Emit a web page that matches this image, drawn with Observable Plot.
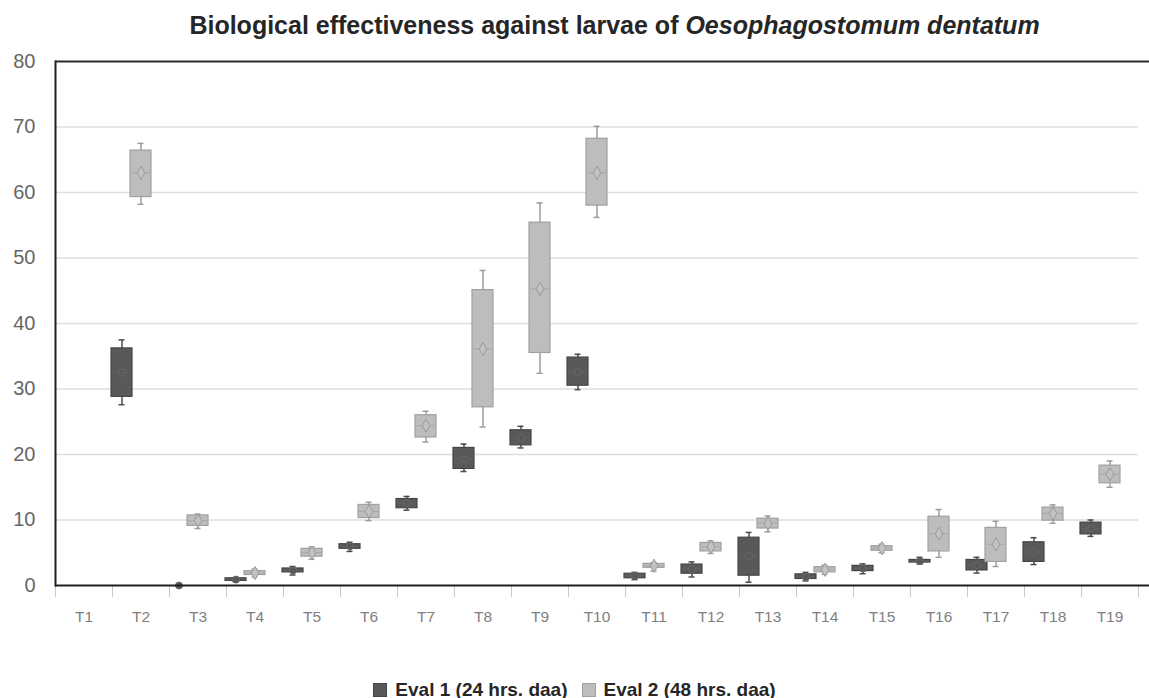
<!DOCTYPE html>
<html>
<head>
<meta charset="utf-8">
<script src="https://cdn.jsdelivr.net/npm/d3@7"></script>
<script src="https://cdn.jsdelivr.net/npm/@observablehq/plot@0.6"></script>
<style>
  html, body { margin: 0; padding: 0; background: #fff; }
  body { width: 1149px; height: 698px; overflow: hidden; font-family: "Liberation Sans", Arial, sans-serif; }
  #title { height: 45px; box-sizing: border-box; padding-top: 13px; padding-left: 80px; text-align: center;
           font-weight: bold; font-size: 25px; line-height: 25px; color: #262626; white-space: nowrap; }
  #chart svg { display: block; }
  #legend { height: 48px; box-sizing: border-box; padding-top: 30px; text-align: center; font-weight: bold;
            font-size: 19px; line-height: 20px; color: #262626; white-space: nowrap; }
  .sw { display: inline-block; width: 14px; height: 14px; vertical-align: -1px; margin-right: 8px; box-sizing: border-box; }
  .item { display: inline-block; margin: 0 7px; }
</style>
</head>
<body>
<div id="title">Biological effectiveness against larvae of <i>Oesophagostomum dentatum</i></div>
<div id="chart"></div>
<div id="legend"></div>
<script>
// ---- data ----
const treatments = ["T1","T2","T3","T4","T5","T6","T7","T8","T9","T10","T11","T12","T13","T14","T15","T16","T17","T18","T19"];
const yTicks = [0, 10, 20, 30, 40, 50, 60, 70, 80];
const seriesNames = ["Eval 1 (24 hrs. daa)", "Eval 2 (48 hrs. daa)"];

const eval1Min = [null, 27.6, 0, 0.6, 1.6, 5.2, 11.5, 17.4, 21.0, 29.9, 0.9, 1.3, 0.5, 0.7, 1.8, 3.3, 1.9, 3.2, 7.5];
const eval1Q1  = [null, 28.8, 0, 0.7, 2.0, 5.6, 11.8, 17.8, 21.4, 30.5, 1.1, 1.8, 1.5, 1.0, 2.2, 3.5, 2.3, 3.6, 7.8];
const eval1Med = [null, 32.5, 0, 0.9, 2.3, 6.0, 12.6, 19.3, 22.5, 32.6, 1.5, 2.5, 4.5, 1.3, 2.6, 3.7, 3.1, 5.1, 8.7];
const eval1Q3  = [null, 36.2, 0, 1.1, 2.6, 6.3, 13.2, 21.0, 23.7, 34.8, 1.8, 3.2, 7.3, 1.7, 3.0, 3.9, 3.9, 6.6, 9.6];
const eval1Max = [null, 37.5, 0, 1.2, 2.9, 6.6, 13.6, 21.6, 24.3, 35.3, 2.0, 3.6, 8.1, 2.0, 3.3, 4.3, 4.3, 7.3, 10.0];

const eval2Min = [null, 58.2, 8.7, 1.3, 4.0, 9.9, 21.9, 24.2, 32.4, 56.2, 2.2, 4.9, 8.2, 1.7, 5.0, 4.3, 2.9, 9.5, 15.0];
const eval2Q1  = [null, 59.3, 9.1, 1.6, 4.4, 10.3, 22.6, 27.2, 35.5, 58.0, 2.7, 5.2, 8.7, 2.0, 5.3, 5.2, 3.6, 9.9, 15.6];
const eval2Med = [null, 63.0, 9.9, 1.9, 5.0, 11.3, 24.4, 36.1, 45.3, 63.0, 3.0, 5.9, 9.5, 2.4, 5.7, 7.9, 6.3, 11.0, 17.0];
const eval2Q3  = [null, 66.4, 10.7, 2.2, 5.6, 12.3, 26.0, 45.1, 55.4, 68.2, 3.3, 6.5, 10.2, 2.8, 6.0, 10.5, 8.8, 11.9, 18.3];
const eval2Max = [null, 67.5, 10.9, 2.5, 5.9, 12.7, 26.6, 48.1, 58.4, 70.1, 3.5, 6.8, 10.6, 3.1, 6.3, 11.6, 9.8, 12.3, 19.0];

// ---- layout & style ----
const W = 1149, H = 605, ML = 55, MR = 0, MT = 16, MB = 65, IR = 11;
const bw = (W - ML - MR - IR) / treatments.length;
const boxW = 21;
const boxInset = (bw - boxW) / 2;
const styles = [
  {dx: -19, fill: "#595959", stroke: "#464646", whisker: "#4a4a4a", median: "#626262", meanFill: "#595959", meanStroke: "#676767", symbol: "circle", r: 3.5},
  {dx: 0,   fill: "#bdbdbd", stroke: "#a0a0a0", whisker: "#9c9c9c", median: "#a8a8a8", meanFill: "#c2c2c2", meanStroke: "#9a9a9a", symbol: "diamond", r: 4}
];

function rowsFor(mins, q1s, meds, q3s, maxs) {
  return treatments.map((t, i) => ({treatment: t, min: mins[i], q1: q1s[i], med: meds[i], q3: q3s[i], max: maxs[i]}))
    .filter(d => d.q1 != null);
}
const data = [
  rowsFor(eval1Min, eval1Q1, eval1Med, eval1Q3, eval1Max),
  rowsFor(eval2Min, eval2Q1, eval2Med, eval2Q3, eval2Max)
];

const boxMarks = data.flatMap((rows, k) => {
  const s = styles[k];
  return [
    Plot.ruleX(rows, {x: "treatment", y1: "min", y2: "max", stroke: s.whisker, strokeWidth: 1.5, dx: s.dx}),
    Plot.tickY(rows, {x: "treatment", y: "min", stroke: s.whisker, strokeWidth: 1.5, dx: s.dx, insetLeft: bw/2 - 3, insetRight: bw/2 - 3}),
    Plot.tickY(rows, {x: "treatment", y: "max", stroke: s.whisker, strokeWidth: 1.5, dx: s.dx, insetLeft: bw/2 - 3, insetRight: bw/2 - 3}),
    Plot.barY(rows, {x: "treatment", y1: "q1", y2: "q3", fill: s.fill, stroke: s.stroke, strokeWidth: 1.2,
                     insetLeft: boxInset, insetRight: boxInset, dx: s.dx}),
    Plot.tickY(rows, {x: "treatment", y: "med", stroke: s.median, strokeWidth: 1, dx: s.dx,
                      insetLeft: boxInset + 1, insetRight: boxInset + 1}),
    Plot.dot(rows, {x: "treatment", y: "med", symbol: s.symbol, r: s.r, fill: s.meanFill, stroke: s.meanStroke, strokeWidth: 1, dx: s.dx})
  ];
});

const chart = Plot.plot({
  width: W, height: H,
  marginLeft: ML, marginRight: MR, marginTop: MT, marginBottom: MB,
  style: {fontFamily: "'Liberation Sans', Arial, sans-serif", background: "#fff", overflow: "visible"},
  x: {type: "band", domain: treatments, padding: 0, insetRight: IR, label: null},
  y: {domain: [0, 80], label: null},
  marks: [
    Plot.ruleY(yTicks.filter(v => v > 0 && v < 80), {stroke: "#dedede", strokeWidth: 1.5, insetRight: IR}),
    Plot.axisY({ticks: yTicks, tickSize: 0, tickPadding: 20, fontSize: 20, fill: "#666666", label: null}),
    Plot.axisX({tickSize: 0, tickPadding: 25, fontSize: 15.5, fill: "#808080", label: null}),
    Plot.axisX({tickSize: 12, tickFormat: () => "", stroke: "#c8c8c8", dx: -bw / 2, label: null}),
    Plot.axisX({ticks: [treatments[treatments.length - 1]], tickSize: 12, tickFormat: () => "", stroke: "#c8c8c8", dx: bw / 2, label: null}),
    ...boxMarks,
    Plot.ruleY([yTicks[0]], {stroke: "#1f1f1f", strokeWidth: 2}),
    Plot.ruleY([yTicks[yTicks.length - 1]], {stroke: "#2b2b2b", strokeWidth: 2}),
    Plot.frame({anchor: "left", stroke: "#1f1f1f", strokeWidth: 2})
  ]
});
document.getElementById("chart").appendChild(chart);

// legend
const legend = document.getElementById("legend");
seriesNames.forEach((name, k) => {
  const item = document.createElement("span");
  item.className = "item";
  const sw = document.createElement("span");
  sw.className = "sw";
  sw.style.background = styles[k].fill;
  sw.style.border = "1px solid " + styles[k].stroke;
  item.appendChild(sw);
  item.appendChild(document.createTextNode(name));
  legend.appendChild(item);
});
</script>
</body>
</html>
